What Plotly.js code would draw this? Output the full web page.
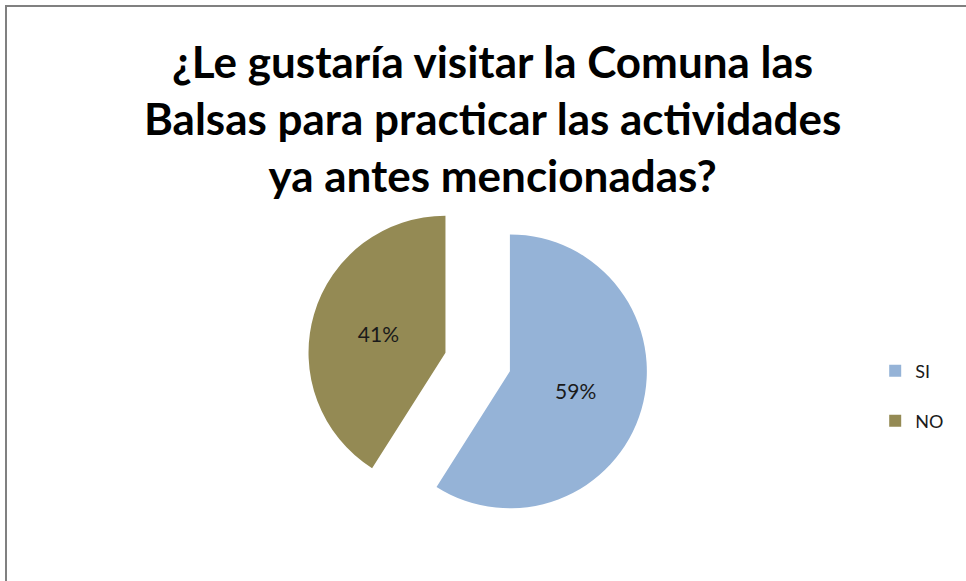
<!DOCTYPE html>
<html>
<head>
<meta charset="utf-8">
<script src="https://cdn.plot.ly/plotly-3.0.1.min.js"></script>
<style>html,body{margin:0;padding:0;background:#fff;}#chart{width:966px;height:581px;}</style>
</head>
<body>
<div id="chart"></div>
<script>
const categories = ["SI", "NO"];
const values = [59, 41];
const colors = ["#95B3D7", "#948A54"];
const titleText = "¿Le gustaría visitar la Comuna las<br>Balsas para practicar las actividades<br>ya antes mencionadas?";

// legend entries get an extra blank line so the entries are spaced like the original
const legendLabels = categories.map(c => c + "<br> ");

const trace = {
  type: "pie",
  labels: legendLabels,
  values: values,
  marker: { colors: colors, line: { width: 0 } },
  sort: false,
  direction: "clockwise",
  rotation: 0,
  pull: [0.245, 0.245],
  textinfo: "percent",
  textposition: "inside",
  insidetextorientation: "horizontal",
  textfont: { family: "Lato, sans-serif", size: 21, color: "#1a1a1a" },
  hoverinfo: "percent",
  domain: { x: [0.318, 0.671], y: [0.0833, 0.6706] }
};

const layout = {
  width: 966,
  height: 581,
  margin: { l: 0, r: 0, t: 0, b: 0 },
  paper_bgcolor: "#ffffff",
  title: {
    text: titleText,
    font: { family: "Lato, sans-serif", size: 44, color: "#000000", weight: "bold" },
    x: 0.51,
    xanchor: "center",
    y: 0.866,
    yanchor: "middle",
    yref: "container"
  },
  showlegend: true,
  legend: {
    x: 0.906,
    y: 0.393,
    xanchor: "left",
    yanchor: "top",
    valign: "top",
    font: { family: "Lato, sans-serif", size: 18, color: "#1a1a1a" },
    bgcolor: "rgba(0,0,0,0)"
  },
  shapes: [{
    type: "rect",
    xref: "paper", yref: "paper",
    x0: 6 / 966, x1: 1.2, y0: -0.2, y1: 1 - 6 / 581,
    line: { color: "#808080", width: 2 },
    fillcolor: "rgba(0,0,0,0)"
  }]
};

Plotly.newPlot("chart", [trace], layout, { displayModeBar: false, staticPlot: true });
</script>
</body>
</html>
